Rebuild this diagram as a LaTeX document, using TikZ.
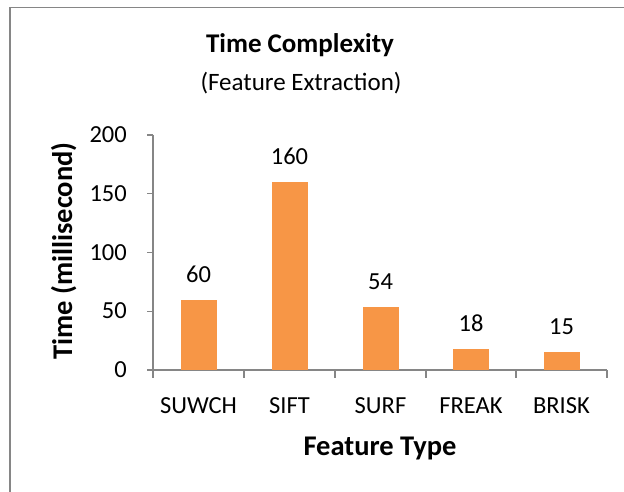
\documentclass[tikz,border=0pt]{standalone}
\usepackage{fontspec}
\setmainfont{Carlito}
\definecolor{barorange}{HTML}{F79646}
\definecolor{axisgray}{HTML}{868686}
\begin{document}
\begin{tikzpicture}[x=1pt,y=-1pt,
  lbl/.style={font=\fontsize{24.5}{28}\selectfont, inner sep=0pt, anchor=base},
  ticklbl/.style={font=\fontsize{24.5}{28}\selectfont, inner sep=0pt, anchor=base east},
  axtitle/.style={font=\fontsize{28.5}{32}\selectfont\bfseries, inner sep=0pt, anchor=base},
  axline/.style={draw=axisgray, line width=1.5pt},
  bar/.style={fill=barorange}]
\useasboundingbox (0,0) rectangle (624,492);
\fill[white] (0,0) rectangle (624,492);
% chart border
\draw[draw=axisgray, line width=1.5pt] (624,7.5) -- (10,7.5) -- (10,492);
% titles
\node[inner sep=0pt, anchor=base, font=\fontsize{27}{30}\selectfont\bfseries] (title) at (300,53) {Time Complexity};
\node[inner sep=0pt, anchor=base, font=\fontsize{25}{30}\selectfont] (subtitle) at (301,91) {(Feature Extraction)};
% axes
\coordinate (origin) at (153,370);
\coordinate (ytop) at (153,135);
\coordinate (xend) at (607,370);
\draw[axline] (ytop) -- (origin) -- (xend);
\foreach \v/\n in {0/a,50/b,100/c,150/d,200/e} {
  \pgfmathsetmacro{\yy}{370-\v*1.175}
  \coordinate (yt\n) at (153,\yy);
  \coordinate (ytl\n) at (147,\yy);
  \draw[axline] (ytl\n) -- (yt\n);
  \node[ticklbl] (ylab\n) at (127,\yy+7.5) {\v};
}
\foreach \xx/\n in {153/a,244/b,335/c,426/d,516/e,607/f} {
  \coordinate (xt\n) at (\xx,370);
  \coordinate (xtb\n) at (\xx,377.5);
  \draw[axline] (xt\n) -- (xtb\n);
}
% bars and labels
\foreach \cx/\v/\name/\n in {198.5/60/SUWCH/a,289.5/160/SIFT/b,380.5/54/SURF/c,471/18/FREAK/d,561.5/15/BRISK/e} {
  \pgfmathsetmacro{\top}{370-\v*1.175}
  \fill[bar] (\cx-18,\top) rectangle (\cx+18,370);
  \node[lbl] (val\n) at (\cx,\top-17.5) {\v};
  \node[lbl] (cat\n) at (\cx,413) {\name};
}
% axis titles
\node[axtitle] (xtitle) at (380,455) {Feature Type};
\node[axtitle, rotate=90] (ytitle) at (72,251) {Time (millisecond)};
\end{tikzpicture}
\end{document}
